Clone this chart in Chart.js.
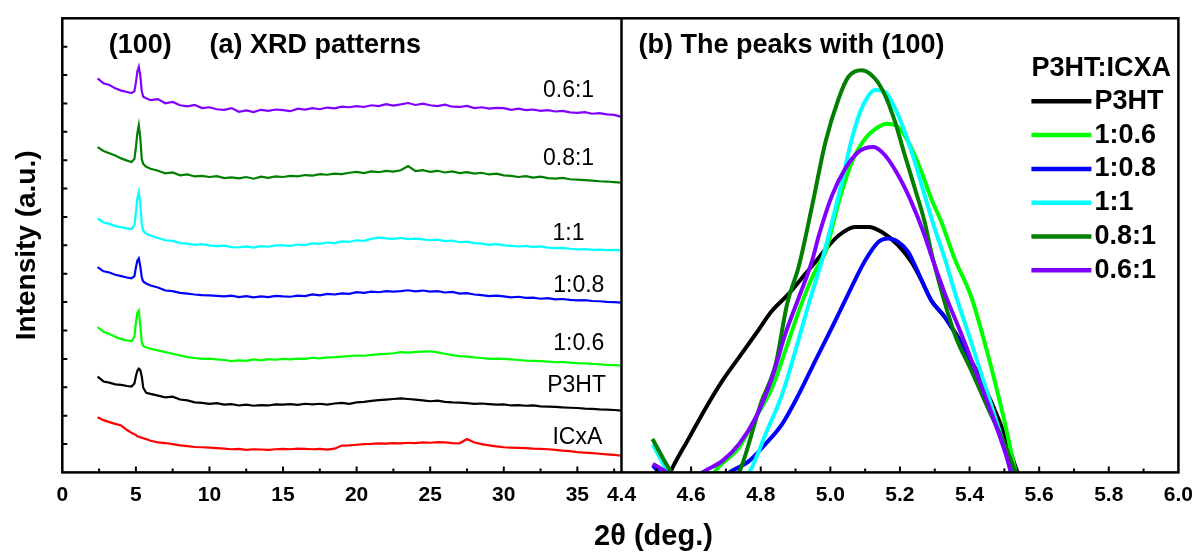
<!DOCTYPE html>
<html>
<head>
<meta charset="utf-8">
<script src="https://cdn.jsdelivr.net/npm/chart.js@4.4.0/dist/chart.umd.min.js"></script>
<style>
  html, body { margin: 0; padding: 0; background: #fff; }
  #wrap { width: 1203px; height: 552px; }
</style>
</head>
<body>
<div id="wrap"><canvas id="xrdChart" width="1203" height="552"></canvas></div>
<script>
// (a) XRD patterns, 2-theta in degrees, intensities in a.u. (offset per sample)
const xrdAngles = [2.4, 2.8, 3.2, 3.6, 4.0, 4.4, 4.7, 4.9, 5.0, 5.1, 5.2, 5.3, 5.4, 5.5, 5.7,
  6.0, 6.5, 7.0, 7.5, 8.0, 8.5, 9.0, 9.5, 10.0, 10.5, 11.0, 11.5, 12.0, 12.5, 13.0, 13.5,
  14.0, 14.5, 15.0, 15.5, 16.0, 16.5, 17.0, 17.5, 18.0, 18.5, 19.0, 19.5, 20.0, 20.5, 21.0,
  21.5, 22.0, 22.5, 23.0, 23.5, 24.0, 24.5, 25.0, 25.5, 26.0, 26.5, 27.0, 27.5, 28.0, 28.5,
  29.0, 29.5, 30.0, 30.5, 31.0, 31.5, 32.0, 32.5, 33.0, 33.5, 34.0, 34.5, 35.0, 35.5, 36.0,
  36.5, 37.0, 37.5, 38.0];

const xrd06to1 = [1395, 1378, 1372, 1360, 1352, 1347, 1343, 1350, 1380, 1420,
  1436, 1405, 1350, 1330, 1325, 1318, 1322, 1307, 1312, 1300,
  1296, 1301, 1290, 1293, 1286, 1284, 1290, 1277, 1282, 1276,
  1284, 1280, 1285, 1283, 1279, 1288, 1285, 1290, 1286, 1292,
  1289, 1295, 1293, 1297, 1294, 1300, 1297, 1304, 1299, 1303,
  1308, 1301, 1306, 1300, 1297, 1302, 1295, 1294, 1298, 1290,
  1293, 1288, 1291, 1290, 1284, 1288, 1283, 1285, 1280, 1283,
  1278, 1280, 1275, 1273, 1276, 1270, 1272, 1268, 1266, 1259];

const xrd08to1 = [1152, 1138, 1130, 1122, 1112, 1104, 1099, 1110, 1150, 1200,
  1229, 1185, 1110, 1092, 1082, 1075, 1068, 1059, 1062, 1052,
  1055, 1048, 1050, 1046, 1049, 1042, 1045, 1041, 1046, 1040,
  1047, 1043, 1048, 1046, 1050, 1048, 1053, 1051, 1056, 1054,
  1058, 1056, 1061, 1064, 1060, 1066, 1063, 1068, 1065, 1070,
  1085, 1067, 1070, 1064, 1068, 1062, 1066, 1060, 1063, 1058,
  1061, 1055, 1058, 1052, 1050, 1046, 1049, 1044, 1047, 1042,
  1040, 1043, 1038, 1037, 1035, 1033, 1031, 1030, 1028, 1026];

const xrd1to1 = [899, 885, 880, 872, 868, 864, 862, 875, 920, 970,
  993, 950, 880, 855, 846, 838, 830, 822, 820, 812,
  810, 806, 808, 804, 801, 803, 798, 797, 800, 796,
  801, 799, 804, 804, 802, 807, 805, 811, 809, 814,
  812, 818, 816, 822, 820, 827, 832, 829, 827, 830,
  826, 828, 825, 822, 824, 819, 821, 815, 817, 812,
  810, 806, 808, 804, 802, 800, 802, 798, 800, 796,
  794, 795, 792, 790, 791, 788, 789, 787, 788, 786];

const xrd1to08 = [727, 712, 708, 700, 695, 690, 687, 695, 725, 750,
  758, 730, 690, 676, 669, 662, 655, 644, 642, 636,
  633, 630, 628, 627, 625, 623, 626, 621, 624, 620,
  623, 621, 625, 623, 622, 626, 624, 630, 627, 632,
  630, 634, 632, 638, 636, 640, 638, 642, 640, 642,
  645, 641, 644, 640, 642, 637, 639, 633, 635, 630,
  628, 624, 626, 623, 620, 622, 618, 619, 615, 617,
  613, 614, 611, 609, 610, 607, 606, 604, 603, 601];

const xrd1to06 = [514, 498, 490, 480, 472, 467, 465, 480, 530, 565,
  573, 520, 460, 448, 443, 438, 432, 426, 420, 414,
  408, 405, 402, 403, 400, 398, 394, 397, 395, 400,
  397, 401, 399, 402, 400, 403, 402, 406, 404, 407,
  408, 410, 412, 414, 413, 416, 418, 420, 422, 426,
  424, 427, 428, 429, 425, 420, 415, 412, 410, 407,
  405, 402, 403, 402, 400, 398, 396, 395, 394, 392,
  390, 391, 389, 387, 386, 384, 383, 381, 380, 378];

const xrdP3HT = [339, 322, 318, 312, 310, 306, 304, 315, 340, 360,
  367, 362, 340, 300, 282, 278, 272, 266, 268, 258,
  255, 248, 246, 243, 245, 240, 242, 237, 240, 236,
  238, 237, 241, 240, 242, 239, 243, 241, 243, 240,
  244, 246, 243, 248, 250, 253, 256, 258, 260, 262,
  260, 258, 255, 252, 254, 250, 248, 247, 245, 243,
  244, 242, 240, 241, 237, 238, 236, 237, 234, 233,
  232, 230, 229, 228, 226, 225, 223, 222, 221, 219];

const xrdICxA = [195, 185, 178, 172, 166, 150, 140, 135, 133, 128,
  126, 124, 123, 121, 118, 112, 106, 104, 100, 96,
  93, 90, 89, 88, 86, 84, 82, 83, 80, 82,
  81, 80, 82, 83, 82, 84, 83, 82, 83, 81,
  84, 95, 96, 98, 100, 101, 103, 102, 104, 103,
  105, 104, 106, 105, 107, 106, 104, 103, 118, 106,
  100, 96, 92, 89, 88, 87, 86, 84, 83, 82,
  80, 77, 75, 72, 70, 68, 66, 64, 62, 59];

// (b) zoom on the (100) peak
const peakP3HT_x = [4.52, 4.54, 4.595, 4.643, 4.69, 4.738, 4.786, 4.833, 4.881, 4.929, 4.957, 4.986,
  5.024, 5.071, 5.11, 5.148, 5.195, 5.233, 5.262, 5.29, 5.329, 5.367, 5.405, 5.452, 5.5, 5.538, 5.56];
const peakP3HT_y = [-60, 0, 124, 230, 325, 408, 491, 573, 633, 704, 745, 790,
  839, 869, 869, 851, 804, 745, 680, 609, 550, 479, 396, 278, 136, 0, -60];

const peak1to06_x = [4.64, 4.68, 4.738, 4.786, 4.833, 4.871, 4.91, 4.948, 4.971, 4.986, 5.024, 5.062,
  5.1, 5.138, 5.162, 5.195, 5.224, 5.262, 5.29, 5.319, 5.357, 5.405, 5.452, 5.5, 5.533, 5.55];
const peak1to06_y = [-40, 20, 89, 195, 301, 432, 573, 691, 745, 780, 957, 1099,
  1182, 1223, 1235, 1223, 1170, 1064, 969, 887, 757, 621, 420, 183, 0, -60];

const peak1to08_x = [4.49, 4.53, 4.62, 4.71, 4.767, 4.814, 4.862, 4.91, 4.957, 5.005, 5.052, 5.1,
  5.138, 5.167, 5.195, 5.224, 5.243, 5.29, 5.329, 5.386, 5.433, 5.481, 5.519, 5.54];
const peak1to08_y = [25, -30, -80, 0, 41, 101, 172, 278, 396, 514, 633, 750,
  816, 828, 816, 780, 733, 609, 550, 432, 301, 160, 18, -50];

const peak1to1_x = [4.49, 4.535, 4.65, 4.767, 4.814, 4.862, 4.9, 4.938, 4.976, 5.005, 5.033, 5.062,
  5.09, 5.129, 5.157, 5.186, 5.214, 5.243, 5.271, 5.3, 5.329, 5.357, 5.405, 5.452, 5.5, 5.519, 5.54];
const peak1to1_y = [100, 0, -100, 0, 136, 278, 432, 597, 751, 887, 1028, 1182,
  1289, 1354, 1348, 1289, 1206, 1099, 981, 863, 757, 640, 460, 278, 89, 0, -50];

const peak08to1_x = [4.489, 4.543, 4.64, 4.738, 4.8, 4.843, 4.876, 4.91, 4.948, 4.986, 5.024, 5.052,
  5.09, 5.128, 5.157, 5.186, 5.214, 5.243, 5.271, 5.29, 5.357, 5.405, 5.452, 5.5, 5.533, 5.55];
const peak08to1_y = [118, 0, -150, 0, 243, 384, 597, 733, 946, 1170, 1324, 1401,
  1424, 1395, 1336, 1241, 1123, 1005, 887, 780, 491, 361, 230, 101, 0, -50];

const peak06to1_x = [4.49, 4.529, 4.58, 4.633, 4.69, 4.738, 4.786, 4.833, 4.871, 4.91, 4.948, 4.967,
  5.005, 5.043, 5.081, 5.124, 5.157, 5.195, 5.233, 5.271, 5.29, 5.329, 5.376, 5.424, 5.471, 5.51, 5.519, 5.54];
const peak06to1_y = [30, 0, -60, 0, 41, 101, 195, 337, 491, 621, 751, 839,
  981, 1076, 1135, 1152, 1123, 1052, 957, 839, 768, 633, 491, 337, 183, 41, 0, -50];

const legendOrder = ['P3HT', '1:0.6', '1:0.8', '1:1', '0.8:1', '0.6:1'];

const FONT = "'Liberation Sans', Arial, sans-serif";
Chart.defaults.font.family = FONT;
Chart.defaults.color = '#000';

function pts(xs, ys) {
  return xs.map((x, i) => ({ x: x, y: ys[i] }));
}

function xrdSet(label, values, color) {
  return {
    label: label,
    data: pts(xrdAngles, values),
    xAxisID: 'x',
    borderColor: color,
    borderWidth: 2.2,
    pointRadius: 0,
    tension: 0,
    panel: 'a'
  };
}

function peakSet(label, xs, ys, color, order) {
  return {
    label: label,
    data: pts(xs, ys),
    xAxisID: 'x2',
    borderColor: color,
    borderWidth: 4,
    pointRadius: 0,
    cubicInterpolationMode: 'monotone',
    order: order,
    panel: 'b'
  };
}

// frame, divider and inward ticks
const framePlugin = {
  id: 'frame',
  afterDatasetsDraw(chart) {
    const { ctx, chartArea: a, scales } = chart;
    ctx.save();
    ctx.strokeStyle = '#000';
    ctx.lineWidth = 2.5;
    ctx.strokeRect(a.left, a.top, a.right - a.left, a.bottom - a.top);
    ctx.beginPath();
    ctx.moveTo(scales.x2.left, a.top);
    ctx.lineTo(scales.x2.left, a.bottom);
    ctx.stroke();

    ctx.lineWidth = 2;
    ctx.beginPath();
    scales.y.ticks.forEach(t => {
      const py = scales.y.getPixelForValue(t.value);
      if (py < a.top + 6 || py > a.bottom - 3) return;
      ctx.moveTo(a.left, py);
      ctx.lineTo(a.left + 5, py);
    });
    ['x', 'x2'].forEach(id => {
      const s = scales[id];
      s.ticks.forEach(t => {
        const px = s.getPixelForValue(t.value);
        if (px < s.left + 3 || px > s.right - 3) return;
        const len = t.label ? 6 : 4;
        ctx.moveTo(px, a.bottom);
        ctx.lineTo(px, a.bottom - len);
      });
    });
    ctx.stroke();
    ctx.restore();
  }
};

// panel titles, curve labels, legend, x title
const textPlugin = {
  id: 'texts',
  afterDraw(chart) {
    const { ctx, chartArea: a, scales } = chart;
    const xs = scales.x, ys = scales.y;
    ctx.save();
    ctx.fillStyle = '#000';
    ctx.textBaseline = 'middle';

    ctx.font = 'bold 27px ' + FONT;
    ctx.textAlign = 'center';
    ctx.fillText('(100)', xs.getPixelForValue(5.3), a.top + 27);
    ctx.textAlign = 'left';
    ctx.fillText('(a) XRD patterns', xs.getPixelForValue(10.0), a.top + 27);
    ctx.fillText('(b) The peaks with (100)', scales.x2.left + 17, a.top + 27);

    // labels next to each XRD trace
    const tags = [
      ['0.6:1', 34.4, 1353], ['0.8:1', 34.4, 1112], ['1:1', 34.4, 846],
      ['1:0.8', 35.1, 662], ['1:0.6', 35.1, 456], ['P3HT', 34.95, 307], ['ICxA', 35.0, 123]
    ];
    ctx.font = '23px ' + FONT;
    ctx.textAlign = 'center';
    tags.forEach(([t, x, y]) => ctx.fillText(t, xs.getPixelForValue(x), ys.getPixelForValue(y)));

    // legend of panel (b)
    const lx = a.right - 147;
    ctx.textAlign = 'left';
    ctx.font = 'bold 27px ' + FONT;
    ctx.fillText('P3HT:ICXA', lx, a.top + 50);
    legendOrder.forEach((name, i) => {
      const ds = chart.data.datasets.find(d => d.panel === 'b' && d.label === name);
      const y = a.top + 83 + i * 33.8;
      ctx.strokeStyle = ds.borderColor;
      ctx.lineWidth = 4.5;
      ctx.beginPath();
      ctx.moveTo(lx, y);
      ctx.lineTo(lx + 60, y);
      ctx.stroke();
      ctx.fillText(name, lx + 63, y);
    });

    ctx.font = 'bold 29px ' + FONT;
    ctx.textAlign = 'center';
    ctx.fillText('2\u03B8 (deg.)', scales.x2.left + 32, a.bottom + 65);
    ctx.restore();
  }
};

const tickFont = { size: 21, weight: 'bold' };

new Chart(document.getElementById('xrdChart'), {
  type: 'line',
  data: {
    datasets: [
      xrdSet('0.6:1', xrd06to1, '#8000FF'),
      xrdSet('0.8:1', xrd08to1, '#007F00'),
      xrdSet('1:1', xrd1to1, '#00FFFF'),
      xrdSet('1:0.8', xrd1to08, '#0000FF'),
      xrdSet('1:0.6', xrd1to06, '#00FF00'),
      xrdSet('P3HT', xrdP3HT, '#000000'),
      xrdSet('ICxA', xrdICxA, '#FF0000'),
      peakSet('P3HT', peakP3HT_x, peakP3HT_y, '#000000', 6),
      peakSet('1:0.6', peak1to06_x, peak1to06_y, '#00FF00', 5),
      peakSet('1:0.8', peak1to08_x, peak1to08_y, '#0000FF', 4),
      peakSet('1:1', peak1to1_x, peak1to1_y, '#00FFFF', 3),
      peakSet('0.8:1', peak08to1_x, peak08to1_y, '#007F00', 2),
      peakSet('0.6:1', peak06to1_x, peak06to1_y, '#8000FF', 1)
    ]
  },
  options: {
    responsive: false,
    animation: false,
    parsing: false,
    layout: { padding: { left: 0, top: 18.3, right: 23, bottom: 34.4 } },
    plugins: {
      legend: { display: false },
      tooltip: { enabled: false }
    },
    scales: {
      x: {
        type: 'linear',
        position: 'bottom',
        stack: 'bottom',
        stackWeight: 560,
        min: 0,
        max: 38,
        grid: { display: false, drawTicks: false },
        border: { display: false },
        ticks: {
          stepSize: 2.5,
          includeBounds: false,
          autoSkip: false,
          maxRotation: 0,
          padding: 10,
          font: tickFont,
          callback: v => (v % 5 === 0 ? String(v) : '')
        }
      },
      x2: {
        type: 'linear',
        position: 'bottom',
        stack: 'bottom',
        stackWeight: 557.7,
        min: 4.4,
        max: 6.0,
        grid: { display: false, drawTicks: false },
        border: { display: false },
        ticks: {
          stepSize: 0.1,
          autoSkip: false,
          maxRotation: 0,
          padding: 10,
          font: tickFont,
          callback: v => (Math.round(v * 10) % 2 === 0 ? v.toFixed(1) : '')
        }
      },
      y: {
        type: 'linear',
        min: 0,
        max: 1608,
        grid: { display: false, drawTicks: false },
        border: { display: false },
        ticks: { display: false, stepSize: 100, includeBounds: false },
        title: {
          display: true,
          text: 'Intensity (a.u.)',
          font: { size: 28, weight: 'bold' },
          padding: { top: 10, bottom: 18.7 }
        }
      }
    }
  },
  plugins: [framePlugin, textPlugin]
});
</script>
</body>
</html>
